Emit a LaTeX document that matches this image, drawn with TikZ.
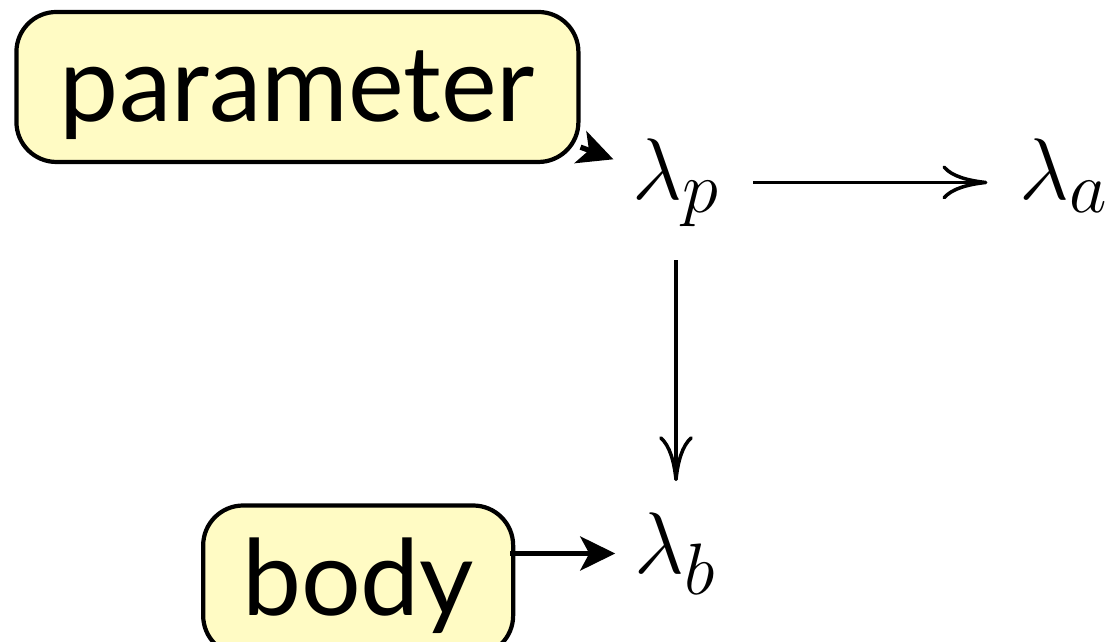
\documentclass[tikz,border=0pt]{standalone}
\usepackage{fontspec}
\newfontfamily\boxfont{Lato}
\definecolor{NoteYellow}{RGB}{255,251,196}
\usetikzlibrary{arrows.meta,positioning}

\begin{document}
\begin{tikzpicture}[>={Computer Modern Rightarrow[length=4.5mm,width=3.4mm]},
  lam/.style={font=\Huge,inner sep=0.5mm},
  note/.style={draw,line width=1.2pt,rounded corners=4mm,fill=NoteYellow,minimum height=1.5cm,inner sep=0pt,text height=0.9cm,text depth=0.2cm,font=\boxfont\fontsize{30}{35}\selectfont},
  map/.style={->,line width=1pt,shorten <=2.8mm,shorten >=2.6mm},
  push/.style={-{Stealth[length=3.5mm,width=3.4mm,inset=0.9mm]},line width=1.5pt,shorten >=1.4mm}]
  \useasboundingbox (0,0) rectangle (11.10,6.42);
  % the three lambdas
  \node[lam] (lp) at (6.76,4.595) {$\lambda_p$};
  \node[lam,base right=2.88cm of lp] (la) {$\lambda_a$};
  \node[lam,below=2.75cm of lp] (lb) {$\lambda_b$};
  % notes pointing at them
  \node[note,minimum width=5.62cm,left=0.46cm of lp,yshift=9.55mm] (param) {parameter};
  \node[note,minimum width=3.1cm,left=1.14cm of lb,yshift=-2.7mm] (body) {body};
  \draw[map] (lp.east) -- (la.west |- lp.east);
  \draw[map] (lp) -- (lb);
  \draw[push] (param.-12) -- (lp);
  \draw[push] ([xshift=-0.5mm]body.east |- lb.west) -- (lb.west);
\end{tikzpicture}
\end{document}
